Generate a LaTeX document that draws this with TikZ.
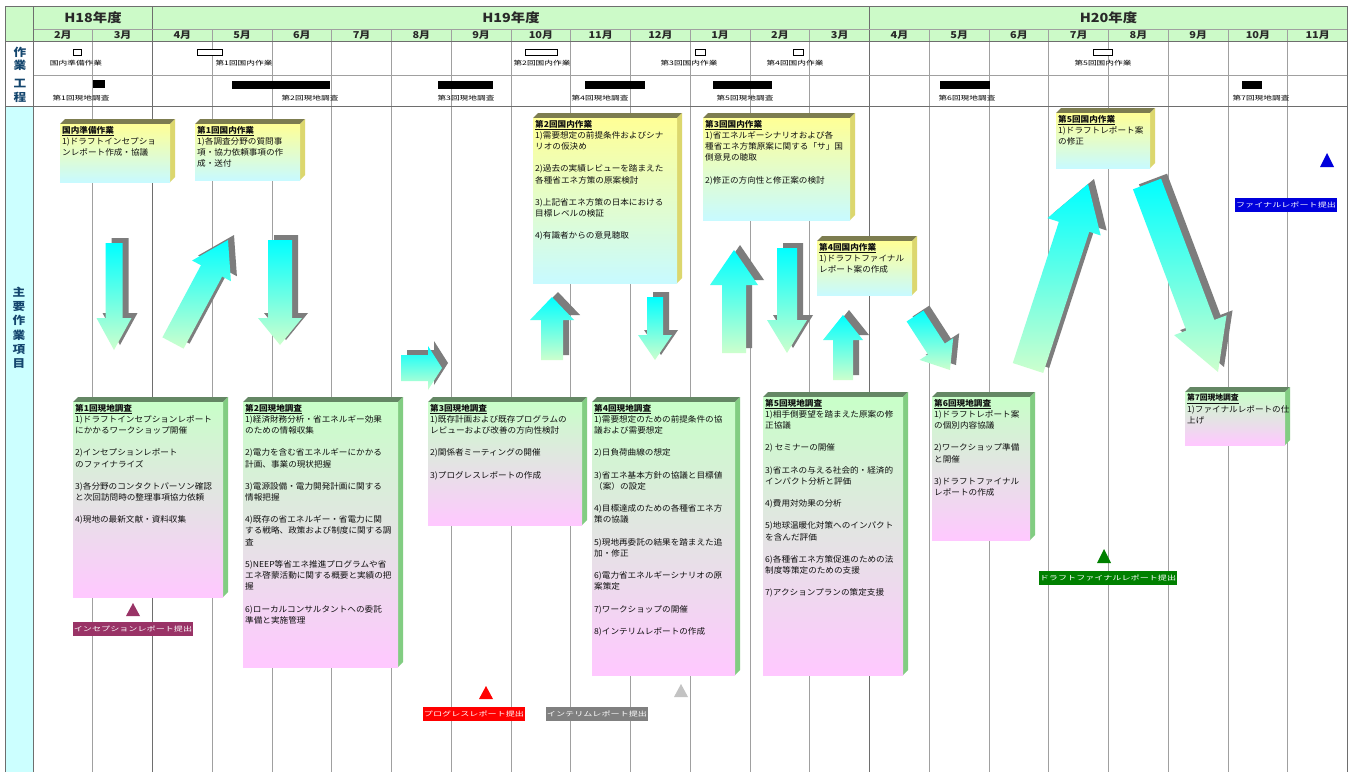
\documentclass[tikz,border=0pt]{standalone}
\usepackage{fontspec}
\usetikzlibrary{calc}
\newfontfamily\jpbox[FakeStretch=1.05]{Noto Sans CJK JP}
\newfontfamily\jpboxp[FakeStretch=1.0,RawFeature=+palt]{Noto Sans CJK JP}
\newfontfamily\jplab[FakeStretch=1.4]{Noto Sans CJK JP}
\newfontfamily\jphd[FakeStretch=1.15]{Noto Sans CJK JP}
\definecolor{hdrgreen}{RGB}{204,250,200}
\definecolor{leftcyan}{RGB}{204,255,255}
\definecolor{gridgray}{RGB}{160,160,160}
\definecolor{framegray}{RGB}{110,110,110}
\definecolor{hdtext}{RGB}{40,40,40}
\definecolor{sideblue}{RGB}{20,70,110}
\definecolor{boxink}{RGB}{15,15,15}
\definecolor{domyellow}{RGB}{255,255,150}
\definecolor{domcyan}{RGB}{200,250,255}
\definecolor{domtop}{RGB}{125,125,80}
\definecolor{domside}{RGB}{220,215,110}
\definecolor{fldgreen}{RGB}{200,255,200}
\definecolor{fldpink}{RGB}{255,200,255}
\definecolor{fldtop}{RGB}{100,135,100}
\definecolor{fldside}{RGB}{130,205,130}
\definecolor{arrcyan}{RGB}{0,255,255}
\definecolor{arrgreen}{RGB}{205,255,205}
\definecolor{shadowgray}{RGB}{125,125,125}
\definecolor{msmaroon}{RGB}{153,51,102}
\definecolor{msred}{RGB}{255,0,0}
\definecolor{msgrayt}{RGB}{195,195,195}
\definecolor{msgray}{RGB}{128,128,128}
\definecolor{msgreen}{RGB}{0,128,0}
\definecolor{msblue}{RGB}{0,0,220}
\tikzset{
  gridline/.style={draw=gridgray, line width=0.8pt},
  frameline/.style={draw=framegray, line width=1pt},
  yeartext/.style={font=\jphd\bfseries\fontsize{12.5}{12.5}\selectfont, text=hdtext, inner sep=0pt},
  monthtext/.style={font=\jphd\bfseries\fontsize{9.5}{10}\selectfont, text=hdtext, inner sep=0pt},
  sidetext/.style={font=\jphd\bfseries\fontsize{11}{11}\selectfont, text=sideblue, inner sep=0pt},
  planbar/.style={draw=black, fill=white, line width=0.6pt},
  fieldbar/.style={fill=black},
  ganttlabel/.style={font=\jplab\fontsize{6.2}{6.2}\selectfont, inner sep=0pt},
  boxtext/.style={font=\jpbox\fontsize{8.2}{11.15}\selectfont, align=left, anchor=north west, inner sep=0pt, text=boxink},
  domfront/.style={top color=domyellow, bottom color=domcyan},
  fldfront/.style={top color=fldgreen, bottom color=fldpink},
  mslabel/.style={font=\jplab\fontsize{6.5}{7}\selectfont, text=white, inner sep=0pt, minimum height=14pt},
}
\newcommand{\bl}{\\[11.15pt]}
\newcommand{\tdbox}[7]{%
  \fill[#2top] (#3,#4) -- (#3+5,#4-5) -- (#5+5,#4-5) -- (#5,#4) -- cycle;
  \fill[#2side] (#5,#4) -- (#5+5,#4-5) -- (#5+5,#6-5) -- (#5,#6) -- cycle;
  \path[#2front] (#3,#4) rectangle (#5,#6);
  \node[boxtext] (#1) at (#3+2,#4+2) {#7};
}
\newcommand{\barrowpath}[5]{($(#1)!#3!90:(#2)$) -- ($(#2)!#5!(#1)!#3!-90:(#1)$) -- ($(#2)!#5!(#1)!#4!-90:(#1)$) -- (#2) -- ($(#2)!#5!(#1)!#4!90:(#1)$) -- ($(#2)!#5!(#1)!#3!90:(#1)$) -- ($(#1)!#3!-90:(#2)$) -- cycle}
\newcommand{\barrow}[5]{%
  \fill[shadowgray, transform canvas={shift={(6pt,5pt)}}] \barrowpath{#1}{#2}{#3}{#4}{#5};
  \shade[top color=arrcyan, bottom color=arrgreen] \barrowpath{#1}{#2}{#3}{#4}{#5};
}
\begin{document}
\begin{tikzpicture}[x=1pt,y=-1pt]
\useasboundingbox (0,0) rectangle (1359,772);
\fill[white] (0,0) rectangle (1359,772);
% header backgrounds
\fill[hdrgreen] (5,6) rectangle (1347.5,41);
\fill[leftcyan] (5,106) rectangle (33,772);
% grid
\foreach \i in {1,3,4,5,6,7,8,9,10,11,12,13,15,16,17,18,19,20,21}
  \draw[gridline] ({33+59.75*\i},29) -- ({33+59.75*\i},772);
\foreach \i in {2,14}
  \draw[frameline] ({33+59.75*\i},6) -- ({33+59.75*\i},772);
\draw[gridline] (33,29) -- (1347.5,29);
\draw[gridline] (33,75) -- (1347.5,75);
\draw[frameline] (5,41) -- (1347.5,41);
\draw[frameline] (5,106) -- (1347.5,106);
\draw[frameline] (5,772) -- (5,6) -- (1347.5,6) -- (1347.5,772);
\draw[frameline] (33,6) -- (33,772);
% years
\node[yeartext] (y18) at (93,17.5) {H18年度};
\node[yeartext] (y19) at (511,17.5) {H19年度};
\node[yeartext] (y20) at (1108.5,17.5) {H20年度};
% months
\foreach \m [count=\k from 0] in {2,3,4,5,6,7,8,9,10,11,12,1,2,3,4,5,6,7,8,9,10,11}
  \node[monthtext] (m\k) at ({33+59.75*(\k+0.5)},35.5) {\m 月};
% side labels
\node[sidetext] (s1) at (20,52) {作};
\node[sidetext] (s2) at (20,65) {業};
\node[sidetext] (s3) at (20,84) {工};
\node[sidetext] (s4) at (20,97) {程};
\foreach \c [count=\k from 0] in {主,要,作,業,項,目}
  \node[sidetext] (t\k) at (19,{292+14.3*\k}) {\c};
% plan row (domestic work)
\draw[planbar] (73,49) rectangle (81,55);
\node[ganttlabel] (g1) at (76,63) {国内準備作業};
\draw[planbar] (197,49) rectangle (222,55);
\node[ganttlabel] (g2) at (244,63) {第1回国内作業};
\draw[planbar] (525,49) rectangle (557,55);
\node[ganttlabel] (g3) at (542,63) {第2回国内作業};
\draw[planbar] (695,49) rectangle (705,55);
\node[ganttlabel] (g4) at (689,63) {第3回国内作業};
\draw[planbar] (793,49) rectangle (803,55);
\node[ganttlabel] (g5) at (795,63) {第4回国内作業};
\draw[planbar] (1093,49) rectangle (1112,55);
\node[ganttlabel] (g6) at (1103,63) {第5回国内作業};
% field survey row
\fill[fieldbar] (93,80) rectangle (105,88);
\node[ganttlabel] (f1) at (81,98) {第1回現地調査};
\fill[fieldbar] (232,81) rectangle (330,89);
\node[ganttlabel] (f2) at (310,98) {第2回現地調査};
\fill[fieldbar] (438,81) rectangle (493,89);
\node[ganttlabel] (f3) at (466,98) {第3回現地調査};
\fill[fieldbar] (585,81) rectangle (645,89);
\node[ganttlabel] (f4) at (600,98) {第4回現地調査};
\fill[fieldbar] (713,81) rectangle (772,89);
\node[ganttlabel] (f5) at (745,98) {第5回現地調査};
\fill[fieldbar] (940,81) rectangle (990,89);
\node[ganttlabel] (f6) at (967,98) {第6回現地調査};
\fill[fieldbar] (1242,81) rectangle (1262,89);
\node[ganttlabel] (f7) at (1261,98) {第7回現地調査};
% domestic boxes
\tdbox{d0}{dom}{60}{124}{170}{182}{\underline{\textbf{国内準備作業}}\\1)ドラフトインセプショ\\ンレポート作成・協議}
\tdbox{d1}{dom}{195}{124}{300}{180}{\underline{\textbf{第1回国内作業}}\\1)各調査分野の質問事\\項・協力依頼事項の作\\成・送付}
\tdbox{d2}{dom}{533}{118}{677}{283}{\underline{\textbf{第2回国内作業}}\\1)需要想定の前提条件およびシナ\\リオの仮決め\bl 2)過去の実績レビューを踏まえた\\各種省エネ方策の原案検討\bl 3)上記省エネ方策の日本における\\目標レベルの検証\bl 4)有識者からの意見聴取}
\tdbox{d3}{dom}{703}{118}{850}{220}{\underline{\textbf{第3回国内作業}}\\1)省エネルギーシナリオおよび各\\種省エネ方策原案に関する「サ」国\\側意見の聴取\bl 2)修正の方向性と修正案の検討}
\tdbox{d4}{dom}{817}{241}{912}{295}{\underline{\textbf{第4回国内作業}}\\1)ドラフトファイナル\\レポート案の作成}
\tdbox{d5}{dom}{1056}{113}{1150}{168}{\underline{\textbf{第5回国内作業}}\\1)ドラフトレポート案\\の修正}
% field boxes
\tdbox{r1}{fld}{73}{402}{223}{597}{\underline{\textbf{第1回現地調査}}\\1)ドラフトインセプションレポート\\にかかるワークショップ開催\bl 2)インセプションレポート\\のファイナライズ\bl 3)各分野のコンタクトパーソン確認\\と次回訪問時の整理事項協力依頼\bl 4)現地の最新文献・資料収集}
\tdbox{r2}{fld}{243}{402}{398}{667}{\underline{\textbf{第2回現地調査}}\\1)経済財務分析・省エネルギー効果\\のための情報収集\bl 2)電力を含む省エネルギーにかかる\\計画、事業の現状把握\bl 3)電源設備・電力開発計画に関する\\情報把握\bl 4)既存の省エネルギー・省電力に関\\する戦略、政策および制度に関する調\\査\bl 5)NEEP等省エネ推進プログラムや省\\エネ啓蒙活動に関する概要と実績の把\\握\bl 6)ローカルコンサルタントへの委託\\準備と実施管理}
\tdbox{r3}{fld}{428}{402}{582}{525}{\underline{\textbf{第3回現地調査}}\\1)既存計画および既存プログラムの\\レビューおよび改善の方向性検討\bl 2)関係者ミーティングの開催\bl 3)プログレスレポートの作成}
\tdbox{r4}{fld}{592}{402}{735}{675}{\underline{\textbf{第4回現地調査}}\\1)需要想定のための前提条件の協\\議および需要想定\bl 2)日負荷曲線の想定\bl 3)省エネ基本方針の協議と目標値\\（案）の設定\bl 4)目標達成のための各種省エネ方\\策の協議\bl 5)現地再委託の結果を踏まえた追\\加・修正\bl 6)電力省エネルギーシナリオの原\\案策定\bl 7)ワークショップの開催\bl 8)インテリムレポートの作成}
\tdbox{r5}{fld}{763}{397}{903}{675}{\underline{\textbf{第5回現地調査}}\\1)相手側要望を踏まえた原案の修\\正協議\bl 2)\ セミナーの開催\bl 3)省エネの与える社会的・経済的\\インパクト分析と評価\bl 4)費用対効果の分析\bl 5)地球温暖化対策へのインパクト\\を含んだ評価\bl 6)各種省エネ方策促進のための法\\制度等策定のための支援\bl 7)アクションプランの策定支援}
\tdbox{r6}{fld}{932}{397}{1030}{540}{\underline{\textbf{第6回現地調査}}\\1)ドラフトレポート案\\の個別内容協議\bl 2)ワークショップ準備\\と開催\bl 3)ドラフトファイナル\\レポートの作成}
\tdbox{r7}{fld}{1185}{392}{1285}{445}{\jpboxp\fontsize{7.8}{11.15}\selectfont\underline{\textbf{第7回現地調査}}\\1)ファイナルレポートの仕\\上げ}
% block arrows
\coordinate (a1s) at (114,243);  \coordinate (a1e) at (114,350);
\coordinate (a2s) at (173,343);  \coordinate (a2e) at (228,240);
\coordinate (a3s) at (280,240);  \coordinate (a3e) at (280,345);
\coordinate (a4s) at (401,368);  \coordinate (a4e) at (442,368);
\coordinate (a5s) at (552,360);  \coordinate (a5e) at (552,297);
\coordinate (a6s) at (655,297);  \coordinate (a6e) at (655,360);
\coordinate (a7s) at (734,353);  \coordinate (a7e) at (734,250);
\coordinate (a8s) at (787,248);  \coordinate (a8e) at (787,353);
\coordinate (a9s) at (843,380);  \coordinate (a9e) at (843,315);
\coordinate (a10s) at (915,316); \coordinate (a10e) at (950,370);
\coordinate (a11s) at (1028,368); \coordinate (a11e) at (1088,184);
\coordinate (a12s) at (1147,184); \coordinate (a12e) at (1218,372);
\barrow{a1s}{a1e}{8.5pt}{17.5pt}{32pt}
\barrow{a2s}{a2e}{12pt}{22pt}{35pt}
\barrow{a3s}{a3e}{12pt}{22pt}{27pt}
\barrow{a4s}{a4e}{13pt}{22pt}{14pt}
\barrow{a5s}{a5e}{11pt}{22pt}{23pt}
\barrow{a6s}{a6e}{8pt}{17pt}{25pt}
\barrow{a7s}{a7e}{12pt}{24pt}{35pt}
\barrow{a8s}{a8e}{10pt}{20pt}{33pt}
\barrow{a9s}{a9e}{10pt}{20pt}{25pt}
\barrow{a10s}{a10e}{10pt}{20pt}{25pt}
\barrow{a11s}{a11e}{16pt}{28pt}{45pt}
\barrow{a12s}{a12e}{15pt}{28pt}{50pt}
% milestones
\fill[msmaroon] (126,616) -- (140,616) -- (133,603) -- cycle;
\node[mslabel, fill=msmaroon, minimum width=120pt] (ms1) at (133,629) {インセプションレポート提出};
\fill[msred] (479,699) -- (493,699) -- (486,686) -- cycle;
\node[mslabel, fill=msred, minimum width=102pt] (ms2) at (474,714) {プログレスレポート提出};
\fill[msgrayt] (674,697) -- (688,697) -- (681,684) -- cycle;
\node[mslabel, fill=msgray, minimum width=102pt] (ms3) at (597,714) {インテリムレポート提出};
\fill[msgreen] (1097,563) -- (1111,563) -- (1104,549) -- cycle;
\node[mslabel, fill=msgreen, minimum width=138pt] (ms4) at (1108,578) {ドラフトファイナルレポート提出};
\fill[msblue] (1320,167) -- (1334,167) -- (1327,153) -- cycle;
\node[mslabel, fill=msblue, minimum width=102pt] (ms5) at (1286,205) {ファイナルレポート提出};
\end{tikzpicture}
\end{document}
